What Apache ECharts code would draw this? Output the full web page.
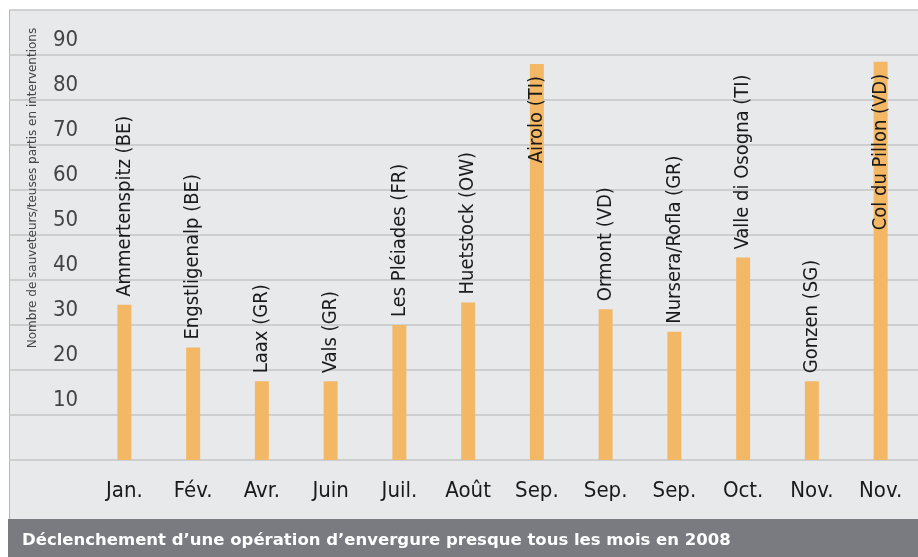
<!DOCTYPE html>
<html>
<head>
<meta charset="utf-8">
<script src="https://cdn.jsdelivr.net/npm/echarts@6/dist/echarts.min.js"></script>
<style>
html,body{margin:0;padding:0;background:#ffffff;}
#chart{width:918px;height:557px;}
</style>
</head>
<body>
<div id="chart"></div>
<script>
const months = ['Jan.', 'Fév.', 'Avr.', 'Juin', 'Juil.', 'Août', 'Sep.', 'Sep.', 'Sep.', 'Oct.', 'Nov.', 'Nov.'];
const sites = ['Ammertenspitz (BE)', 'Engstligenalp (BE)', 'Laax (GR)', 'Vals (GR)', 'Les Pléiades (FR)', 'Huetstock (OW)', 'Airolo (TI)', 'Ormont (VD)', 'Nursera/Rofla (GR)', 'Valle di Osogna (TI)', 'Gonzen (SG)', 'Col du Pillon (VD)'];
const rescuers = [34.5, 25, 17.5, 17.5, 30, 35, 88, 33.5, 28.5, 45, 17.5, 88.5];
const insideLabel = [false, false, false, false, false, false, true, false, false, false, false, true];
const yTicks = [10, 20, 30, 40, 50, 60, 70, 80, 90];
const yTitle = 'Nombre de sauveteurs/teuses partis en interventions';
const footer = 'Déclenchement d\u2019une opération d\u2019envergure presque tous les mois en 2008';

const NARROW = '"Liberation Sans Narrow","DejaVu Sans Condensed",sans-serif';
const COND = '"DejaVu Sans Condensed","Liberation Sans Narrow",sans-serif';

const chart = echarts.init(document.getElementById('chart'), null, {renderer: 'canvas'});

const barData = rescuers.map((v, i) => {
  const item = {value: v};
  if (insideLabel[i]) {
    item.label = {position: 'insideTop', align: 'right', distance: 12};
  }
  return item;
});

chart.setOption({
  animation: false,
  backgroundColor: '#ffffff',
  graphic: [
    {type: 'rect', z: -10, shape: {x: 9, y: 10, width: 909, height: 509}, style: {fill: '#e8e9eb'}},
    {type: 'line', z: -9, shape: {x1: 9.5, y1: 10, x2: 9.5, y2: 519}, style: {stroke: '#b5b6b8', lineWidth: 1}},
    {type: 'rect', z: 5, shape: {x: 8, y: 519, width: 910, height: 38}, style: {fill: '#797b80'}},
    {type: 'text', z: 6, x: 22, y: 541, style: {text: footer, fill: '#ffffff', font: 'bold 16.5px "DejaVu Sans","Liberation Sans",sans-serif', textVerticalAlign: 'middle'}},
    {type: 'text', z: 6, x: 33, y: 188, rotation: Math.PI / 2, style: {text: yTitle, fill: '#444444', font: '12px "DejaVu Sans",sans-serif', textAlign: 'center', textVerticalAlign: 'middle'}}
  ],
  grid: [
    {left: 9, right: 0, top: 10, bottom: 97},
    {left: 90, right: 3, top: 10, bottom: 97}
  ],
  xAxis: [
    {type: 'value', gridIndex: 0, show: false, min: 0, max: 1},
    {type: 'category', gridIndex: 1, data: months,
      axisLine: {show: false}, axisTick: {show: false},
      axisLabel: {color: '#1a1a1a', fontFamily: NARROW, fontSize: 22, margin: 20}}
  ],
  yAxis: [
    {type: 'value', gridIndex: 0, min: 0, max: 100, interval: 10,
      axisLine: {show: false}, axisTick: {show: false},
      splitLine: {show: true, lineStyle: {color: '#c4c5c7', width: 1.5}},
      axisLabel: {inside: true, margin: 44, color: '#444444', fontFamily: NARROW, fontSize: 22,
        verticalAlign: 'bottom', lineHeight: 22, padding: [0, 0, 4, 0],
        formatter: v => (yTicks.indexOf(v) >= 0 ? String(v) : '')}},
    {type: 'value', gridIndex: 1, min: 0, max: 100, show: false, splitLine: {show: false}}
  ],
  series: [{
    type: 'bar', xAxisIndex: 1, yAxisIndex: 1, barWidth: 14,
    itemStyle: {color: '#f3b866'},
    label: {show: true, position: 'top', rotate: 90, align: 'left', verticalAlign: 'middle', distance: 8,
      color: '#1a1a1a', fontFamily: COND, fontSize: 20,
      formatter: p => sites[p.dataIndex]},
    data: barData
  }]
});
</script>
</body>
</html>
